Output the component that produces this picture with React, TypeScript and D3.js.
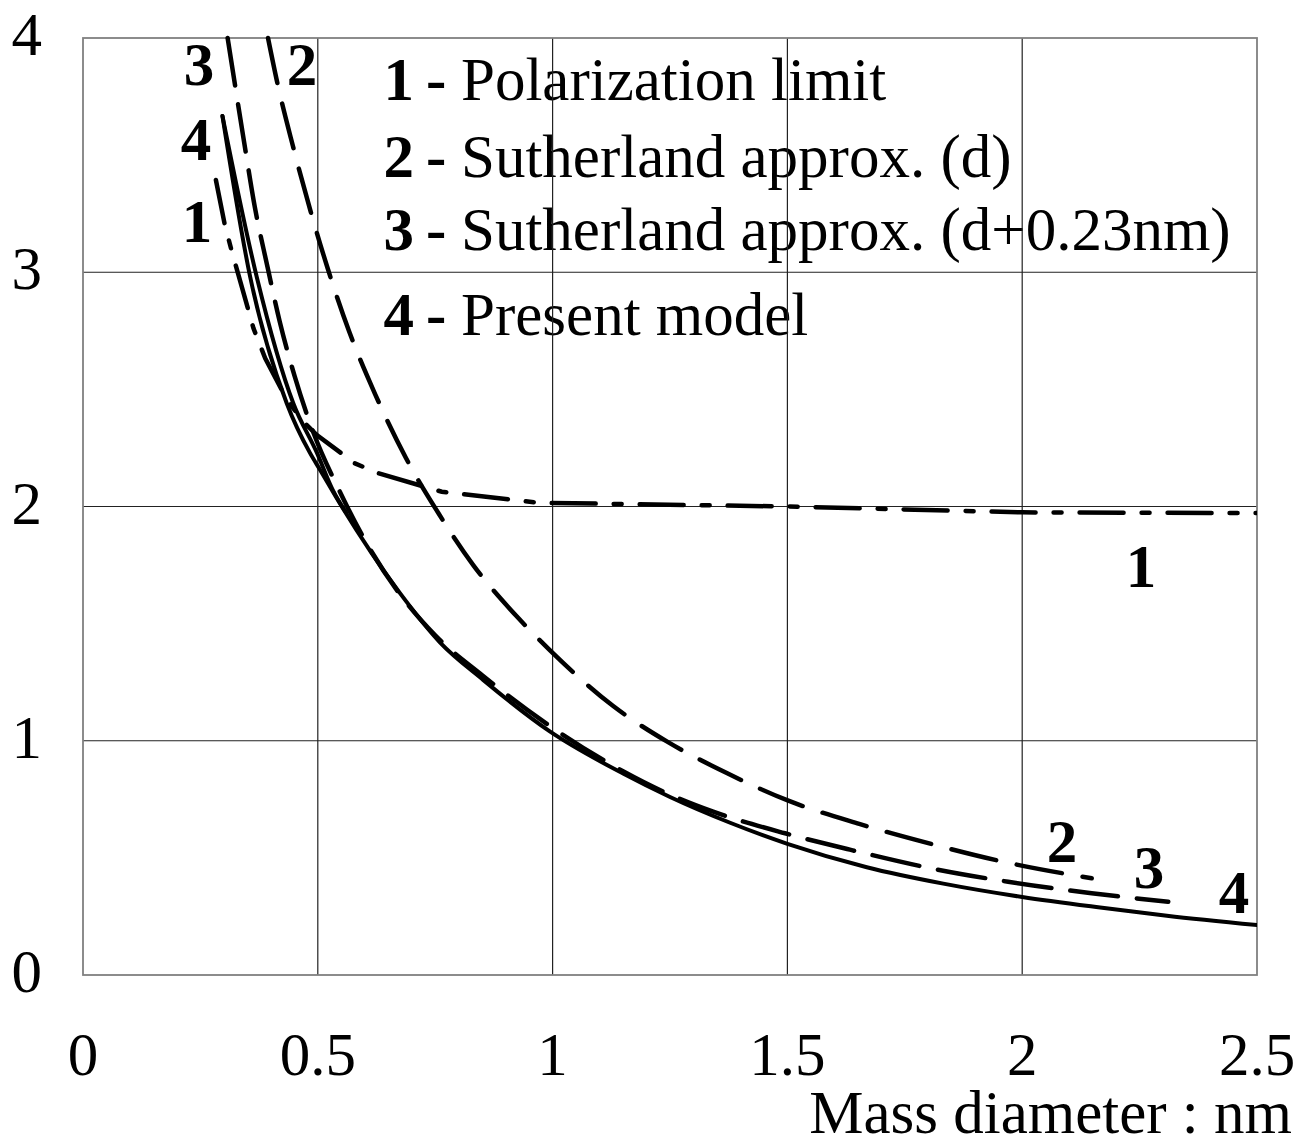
import React from "react";
import * as d3 from "d3";

// ---- data (mass diameter nm, value) ----
const polarizationLimit: [number, number][] = [
  [0.283, 3.394], [0.302, 3.202], [0.317, 3.088], [0.363, 2.761], [0.388, 2.633],
  [0.435, 2.452], [0.473, 2.355], [0.498, 2.305], [0.579, 2.184], [0.629, 2.142],
  [0.764, 2.063], [0.97, 2.016], [1.5, 2.0], [2.0, 1.975], [2.5, 1.972],
];
const sutherlandD: [number, number][] = [
  [0.394, 4.0], [0.414, 3.807], [0.447, 3.539], [0.485, 3.258], [0.521, 3.017],
  [0.567, 2.746], [0.622, 2.48], [0.688, 2.206], [0.757, 1.971], [0.831, 1.75],
  [0.924, 1.53], [0.994, 1.387], [1.129, 1.148], [1.244, 0.996], [1.372, 0.861],
  [1.502, 0.744], [1.653, 0.645], [1.807, 0.559], [1.97, 0.479], [2.148, 0.413],
];
const sutherlandD023: [number, number][] = [
  [0.308, 4.0], [0.343, 3.557], [0.366, 3.277], [0.392, 3.031], [0.419, 2.789],
  [0.451, 2.554], [0.49, 2.319], [0.547, 2.063], [0.604, 1.843], [0.668, 1.644],
  [0.75, 1.45], [0.85, 1.28], [1.0, 1.055], [1.15, 0.87], [1.25, 0.77],
  [1.342, 0.697], [1.495, 0.605], [1.633, 0.535], [1.807, 0.455], [1.97, 0.398],
  [2.148, 0.349], [2.311, 0.313],
];
const presentModel: [number, number][] = [
  [0.297, 3.667], [0.356, 2.98], [0.434, 2.44], [0.483, 2.23], [0.505, 2.156],
  [0.551, 2.0], [0.675, 1.63], [0.76, 1.42], [0.852, 1.26], [0.994, 1.04],
  [1.15, 0.86], [1.25, 0.76], [1.378, 0.65], [1.5, 0.56], [1.669, 0.46],
  [1.832, 0.39], [2.0, 0.333], [2.166, 0.288], [2.308, 0.253], [2.5, 0.213],
];
const presentModelUpper: [number, number][] = [
  [0.297, 3.667], [0.37, 2.98], [0.448, 2.44], [0.498, 2.23], [0.532, 2.07], [0.56, 1.975],
];

const xTicks = [0, 0.5, 1, 1.5, 2, 2.5];
const xTickLabels = ["0", "0.5", "1", "1.5", "2", "2.5"];
const yTicks = [0, 1, 2, 3, 4];
const yTickLabels = ["0", "1", "2", "3", "4"];

const legendItems = [
  { num: "1", text: "Polarization limit" },
  { num: "2", text: "Sutherland approx. (d)" },
  { num: "3", text: "Sutherland approx. (d+0.23nm)" },
  { num: "4", text: "Present model" },
];
const xTitle = "Mass diameter : nm";

export default function App() {
  const W = 1308, H = 1144;
  const x = d3.scaleLinear().domain([0, 2.5]).range([83, 1257]);
  const y = d3.scaleLinear().domain([0, 4]).range([975, 38]);
  const smooth = d3.line<[number, number]>().x(d => x(d[0])).y(d => y(d[1])).curve(d3.curveMonotoneX);
  const lin = d3.line<[number, number]>().x(d => x(d[0])).y(d => y(d[1]));
  const font = "'Liberation Serif', 'Times New Roman', serif";
  const fs = 61;
  const legendBaselines = [100, 177, 250, 335];
  const lineStyle = { fill: "none", stroke: "#000", strokeWidth: 4.5, strokeLinecap: "round" as const };
  return (
    <svg width={W} height={H} style={{ position: "absolute", left: 0, top: 0, display: "block", background: "#fff" }}
      fontFamily={font}>
      <defs>
        <clipPath id="plotclip">
          <rect x={x(0)} y={y(4) - 3} width={x(2.5) - x(0)} height={y(0) - y(4) + 3} />
        </clipPath>
      </defs>
      <rect x={0} y={0} width={W} height={H} fill="#fff" />
      {/* legend text (under the grid) */}
      {legendItems.map((it, i) => (
        <g key={it.num}>
          <text x={414} y={legendBaselines[i]} fontSize={fs} fontWeight="bold" textAnchor="end">{it.num}</text>
          <text x={426} y={legendBaselines[i]} fontSize={fs} fontWeight="bold">-</text>
          <text x={461} y={legendBaselines[i]} fontSize={fs}>{it.text}</text>
        </g>
      ))}
      {/* grid */}
      {xTicks.slice(1, -1).map(t => (
        <line key={"gx" + t} x1={x(t)} x2={x(t)} y1={y(0)} y2={y(4)} stroke="#222" strokeWidth={1.2} />
      ))}
      {yTicks.slice(1, -1).map(t => (
        <line key={"gy" + t} x1={x(0)} x2={x(2.5)} y1={y(t)} y2={y(t)} stroke="#222" strokeWidth={1.2} />
      ))}
      <rect x={x(0)} y={y(4)} width={x(2.5) - x(0)} height={y(0) - y(4)} fill="none" stroke="#808080" strokeWidth={1.8} />
      {/* curves */}
      <g clipPath="url(#plotclip)">
        <path d={lin(polarizationLimit) || ""} {...lineStyle} strokeDasharray="44,18,8,18" />
        <path d={smooth(sutherlandD) || ""} {...lineStyle} strokeDasharray="46,21" />
        <path d={smooth(sutherlandD023) || ""} {...lineStyle} strokeDasharray="48,19" />
        <path d={smooth(presentModelUpper) || ""} {...lineStyle} strokeWidth={4} />
        <path d={smooth(presentModel) || ""} {...lineStyle} strokeWidth={4} />
      </g>
      {/* curve labels */}
      <g fontSize={fs} fontWeight="bold" textAnchor="middle">
        <text x={199} y={85}>3</text>
        <text x={302} y={85}>2</text>
        <text x={196} y={160}>4</text>
        <text x={197} y={242}>1</text>
        <text x={1141} y={587}>1</text>
        <text x={1062} y={862}>2</text>
        <text x={1149} y={888}>3</text>
        <text x={1234} y={913}>4</text>
      </g>
      {/* tick labels */}
      {yTicks.map((t, i) => (
        <text key={"yl" + t} x={42} y={y(t) + 17} fontSize={fs} textAnchor="end">{yTickLabels[i]}</text>
      ))}
      {xTicks.map((t, i) => (
        <text key={"xl" + t} x={x(t)} y={1075} fontSize={fs} textAnchor="middle">{xTickLabels[i]}</text>
      ))}
      <text x={1292} y={1133} fontSize={fs} textAnchor="end">{xTitle}</text>
    </svg>
  );
}
